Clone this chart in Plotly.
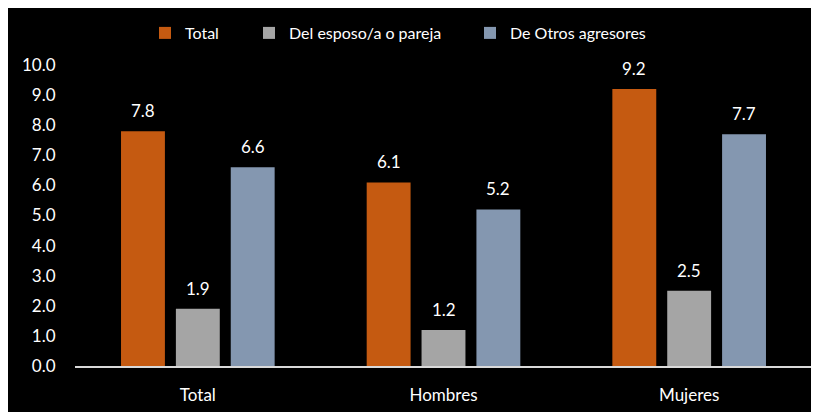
import plotly.graph_objects as go

categories = ["Total", "Hombres", "Mujeres"]
series_names = ["Total", "Del esposo/a o pareja", "De Otros agresores"]
total_vals = [7.8, 6.1, 9.2]
pareja_vals = [1.9, 1.2, 2.5]
otros_vals = [6.6, 5.2, 7.7]
y_ticks = [0, 1, 2, 3, 4, 5, 6, 7, 8, 9, 10]

colors = ["#C55A11", "#A5A5A5", "#8497B0"]
FONT = "Lato"
OFF = 8  # page body margin
W, H = 819 - OFF, 412 - OFF
ML, MT = 75 - OFF, 65 - OFF
MR = 7
MB = 46
bargap = 0.33
bargroupgap = 0.2

series = [total_vals, pareja_vals, otros_vals]
legend_names = ["legend", "legend2", "legend3"]

fig = go.Figure()
for name, vals, col, lg in zip(series_names, series, colors, legend_names):
    fig.add_trace(go.Bar(x=categories, y=vals, name=name, marker_color=col,
                         marker_line_width=0, legend=lg))

# value labels above bars
slot = (1 - bargap) / len(series)
annotations = []
for j, vals in enumerate(series):
    off = (j - (len(series) - 1) / 2) * slot
    for i, v in enumerate(vals):
        annotations.append(dict(x=i + off, y=v, xref="x", yref="y", text=f"{v:.1f}",
                                showarrow=False, yanchor="bottom", yshift=8,
                                font=dict(family=FONT, size=17, color="white")))

legend_x_px = [166, 270, 491]
leg_common = dict(orientation="h", xanchor="left", yanchor="middle",
                  xref="container", yref="container",
                  font=dict(family=FONT, size=16, color="white"),
                  bgcolor="rgba(0,0,0,0)", itemwidth=30)
legends = {}
for lg, xp in zip(legend_names, legend_x_px):
    legends[lg] = dict(leg_common, x=(xp - OFF - 21) / W, y=1 - (33 - OFF) / H)

fig.update_layout(
    width=W, height=H,
    margin=dict(l=ML, r=MR, t=MT, b=MB, autoexpand=False),
    paper_bgcolor="black", plot_bgcolor="black",
    barmode="group", bargap=bargap, bargroupgap=bargroupgap,
    font=dict(family=FONT, size=17, color="white"),
    showlegend=True,
    annotations=annotations,
    **legends,
)
fig.update_xaxes(showgrid=False, showline=True, linecolor="#D9D9D9", linewidth=1.5,
                 ticks="outside", ticklen=13, tickcolor="black", automargin=False,
                 tickfont=dict(family=FONT, size=17, color="white"))
fig.update_yaxes(range=[0, 10], tickvals=y_ticks, tickformat=".1f", showgrid=False,
                 zeroline=False, showline=False, ticks="outside", ticklen=15,
                 tickcolor="black", automargin=False,
                 tickfont=dict(family=FONT, size=17, color="white"))

fig.write_html("out.html")
